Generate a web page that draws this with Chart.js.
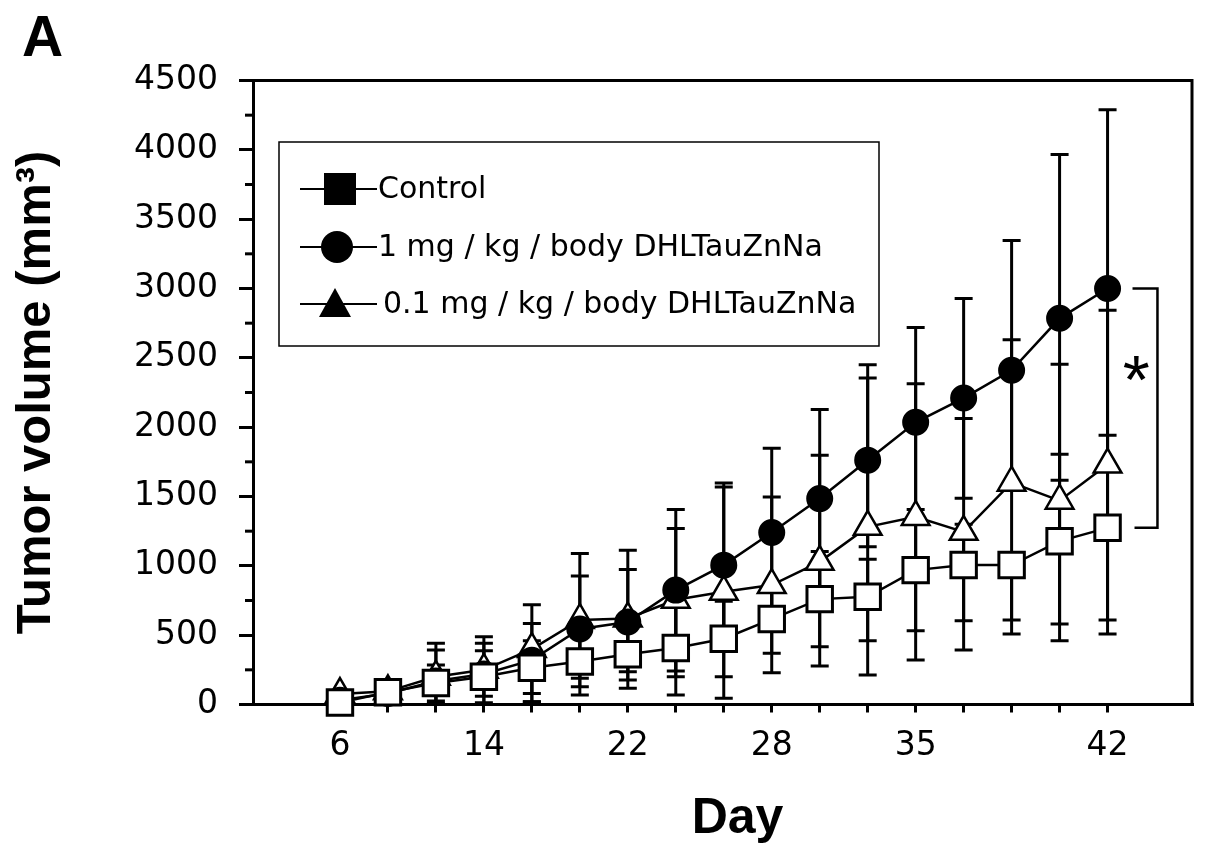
<!DOCTYPE html>
<html>
<head>
<meta charset="utf-8">
<script src="https://cdn.jsdelivr.net/npm/chart.js@4.4.0/dist/chart.umd.min.js"></script>
<style>
html,body{margin:0;padding:0;background:#fff;}
#wrap{width:1213px;height:862px;position:relative;}
</style>
</head>
<body>
<div id="wrap"><canvas id="c"></canvas></div>
<script>
// ---- data ----
const dayLabels = ['6','','','14','','','22','','','28','','','35','','','','42'];
const seriesNames = ['Control', '1 mg / kg / body DHLTauZnNa', '0.1 mg / kg / body DHLTauZnNa'];
const xTitle = 'Day';
const yTitle = 'Tumor volume (mm³)';

const control     = [15, 88, 155, 200, 265, 310, 363, 408, 474, 616, 760, 777, 969, 1006, 1006, 1178, 1274];
const controlLow  = [0, 60, 25, 12, 20, 68, 177, 68, 200, 369, 417, 460, 532, 604, 609, 580, 508];
const controlHigh = [40, 115, 285, 388, 460, 548, 553, 752, 744, 863, 1103, 1048, 1406, 1300, 1080, 1805, 1942];

const dose1     = [30, 80, 170, 220, 320, 545, 595, 825, 1005, 1240, 1485, 1762, 2035, 2210, 2410, 2785, 3000];
const dose1Low  = [10, 60, 0, 0, 20, 189, 236, 200, 413, 632, 842, 1137, 1352, 1488, 1560, 1618, 1711];
const dose1High = [50, 100, 441, 489, 585, 926, 974, 1406, 1597, 1848, 2128, 2451, 2718, 2927, 3347, 3967, 4289];

const dose01     = [75, 95, 200, 250, 400, 610, 620, 755, 813, 861, 1029, 1281, 1353, 1245, 1600, 1470, 1730];
const dose01Low  = [55, 75, 7, 59, 80, 128, 117, 241, 45, 229, 277, 213, 321, 393, 508, 460, 609];
const dose01High = [95, 115, 393, 441, 720, 1089, 1113, 1269, 1568, 1497, 1798, 2355, 2314, 2062, 2631, 2454, 2843];

const yTicksMajor = [0, 500, 1000, 1500, 2000, 2500, 3000, 3500, 4000, 4500];

// ---- helpers ----
const pts = arr => arr.map((v, i) => ({x: i, y: v}));
const errSets = [
  {low: controlLow, high: controlHigh},
  {low: dose1Low, high: dose1High},
  {low: dose01Low, high: dose01High}
];

Chart.defaults.font.family = '"DejaVu Sans", sans-serif';
Chart.defaults.color = '#000';

const errorBars = {
  id: 'errorBars',
  beforeDatasetsDraw(chart) {
    const {ctx, scales: {x, y}} = chart;
    ctx.save();
    ctx.strokeStyle = '#000';
    ctx.lineWidth = 3;
    errSets.forEach(s => {
      s.low.forEach((lo, i) => {
        const hi = s.high[i];
        const px = x.getPixelForValue(i);
        const yl = y.getPixelForValue(lo);
        const yh = y.getPixelForValue(hi);
        ctx.beginPath();
        ctx.moveTo(px, yl); ctx.lineTo(px, yh);
        ctx.moveTo(px - 9, yl); ctx.lineTo(px + 9, yl);
        ctx.moveTo(px - 9, yh); ctx.lineTo(px + 9, yh);
        ctx.stroke();
      });
    });
    ctx.restore();
  }
};

const decorations = {
  id: 'decorations',
  afterDraw(chart) {
    const {ctx, chartArea: a, scales: {x, y}} = chart;
    ctx.save();
    // frame
    ctx.strokeStyle = '#000';
    ctx.lineWidth = 3;
    ctx.beginPath();
    ctx.moveTo(a.left, a.top); ctx.lineTo(a.right, a.top); ctx.lineTo(a.right, a.bottom);
    ctx.stroke();
    // minor y ticks
    for (let k = 0; k < yTicksMajor.length - 1; k++) {
      const v = (yTicksMajor[k] + yTicksMajor[k + 1]) / 2;
      const py = y.getPixelForValue(v);
      ctx.beginPath(); ctx.moveTo(a.left - 8, py); ctx.lineTo(a.left, py); ctx.stroke();
    }
    // significance bracket
    const last = control.length - 1;
    const bx0 = x.getPixelForValue(last + 0.52);
    const bx1 = x.getPixelForValue(last + 1.04);
    const byTop = y.getPixelForValue(dose1[last]);
    const byBot = y.getPixelForValue(control[last]);
    ctx.lineWidth = 2.5;
    ctx.beginPath();
    ctx.moveTo(bx0, byTop); ctx.lineTo(bx1, byTop); ctx.lineTo(bx1, byBot); ctx.lineTo(bx0 + 2, byBot);
    ctx.stroke();
    // asterisk
    const cx = x.getPixelForValue(last + 0.6), cy = y.getPixelForValue(2420);
    ctx.font = '100px "Liberation Sans"';
    let m = ctx.measureText('*');
    const size = 100 * 25 / (m.actualBoundingBoxAscent + m.actualBoundingBoxDescent);
    ctx.font = size + 'px "Liberation Sans"';
    m = ctx.measureText('*');
    ctx.fillStyle = '#000';
    ctx.textAlign = 'left'; ctx.textBaseline = 'alphabetic';
    ctx.fillText('*', cx - (m.actualBoundingBoxRight - m.actualBoundingBoxLeft) / 2,
                 cy + (m.actualBoundingBoxAscent - m.actualBoundingBoxDescent) / 2);
    // panel letter
    ctx.font = 'bold 57px "Liberation Sans"';
    ctx.fillText('A', 22, 56);
    // x axis title
    ctx.font = 'bold 50px "Liberation Sans"';
    ctx.textAlign = 'center';
    ctx.fillText(xTitle, (a.left + a.right) / 2 + 15, 833);
    ctx.textAlign = 'left';
    // legend
    const L = {x0: 279, y0: 142, x1: 879, y1: 346};
    ctx.fillStyle = '#fff';
    ctx.fillRect(L.x0, L.y0, L.x1 - L.x0, L.y1 - L.y0);
    ctx.strokeStyle = '#000'; ctx.lineWidth = 1.5;
    ctx.strokeRect(L.x0, L.y0, L.x1 - L.x0, L.y1 - L.y0);
    const rows = [189, 247, 304];
    const textX = [378, 378, 383];
    ctx.font = '30px "DejaVu Sans"';
    ctx.textBaseline = 'middle';
    rows.forEach((ry, k) => {
      ctx.strokeStyle = '#000'; ctx.lineWidth = 2;
      ctx.beginPath(); ctx.moveTo(300, ry); ctx.lineTo(377, ry); ctx.stroke();
      ctx.fillStyle = '#000';
      ctx.beginPath();
      if (k === 0) { ctx.rect(324, ry - 16, 32, 32); }
      else if (k === 1) { ctx.arc(337, ry, 16, 0, Math.PI * 2); }
      else { ctx.moveTo(335, ry - 16); ctx.lineTo(351, ry + 13); ctx.lineTo(319, ry + 13); ctx.closePath(); }
      ctx.fill();
      ctx.fillText(seriesNames[k], textX[k], ry + 1);
    });
    ctx.restore();
  }
};

new Chart(document.getElementById('c'), {
  type: 'line',
  data: {
    datasets: [
      {label: seriesNames[0], data: pts(control), borderColor: '#000', borderWidth: 2.5,
       pointStyle: 'rect', pointRadius: 18, pointBorderWidth: 3, pointBackgroundColor: '#fff', pointBorderColor: '#000', clip: false},
      {label: seriesNames[1], data: pts(dose1), borderColor: '#000', borderWidth: 2.5,
       pointStyle: 'circle', pointRadius: 12, pointBorderWidth: 3, pointBackgroundColor: '#000', pointBorderColor: '#000', clip: false},
      {label: seriesNames[2], data: pts(dose01), borderColor: '#000', borderWidth: 2.5,
       pointStyle: 'triangle', pointRadius: 16, pointBorderWidth: 2.5, pointBackgroundColor: '#fff', pointBorderColor: '#000', clip: false}
    ]
  },
  options: {
    responsive: true,
    maintainAspectRatio: false,
    animation: false,
    events: [],
    layout: {padding: {top: 80.5, right: 20.5, bottom: 0, left: 0}},
    plugins: {legend: {display: false}, tooltip: {enabled: false}},
    scales: {
      x: {
        type: 'linear',
        min: -1.8125, max: 17.76,
        afterBuildTicks: axis => { axis.ticks = dayLabels.map((_, i) => ({value: i})); },
        afterFit: axis => { axis.height = 157.5; },
        ticks: {autoSkip: false, maxRotation: 0, padding: 14, font: {size: 33, family: '"DejaVu Sans"'},
                callback: (v, i) => dayLabels[i]},
        grid: {drawOnChartArea: false, color: '#000', tickLength: 8, tickWidth: 3, lineWidth: 3},
        border: {display: true, color: '#000', width: 3},
        title: {display: false, text: xTitle}
      },
      y: {
        type: 'linear',
        min: 0, max: 4500,
        afterBuildTicks: axis => { axis.ticks = yTicksMajor.map(v => ({value: v})); },
        afterFit: axis => { axis.width = 253; },
        ticks: {padding: 21, font: {size: 33, family: '"DejaVu Sans"'}, callback: v => String(v)},
        grid: {drawOnChartArea: false, color: '#000', tickLength: 14, tickWidth: 3, lineWidth: 3},
        border: {display: true, color: '#000', width: 3},
        title: {display: true, text: yTitle, color: '#000',
                font: {family: '"Liberation Sans"', weight: 'bold', size: 49}, padding: {top: 7, bottom: 0}}
      }
    }
  },
  plugins: [errorBars, decorations]
});
</script>
</body>
</html>
